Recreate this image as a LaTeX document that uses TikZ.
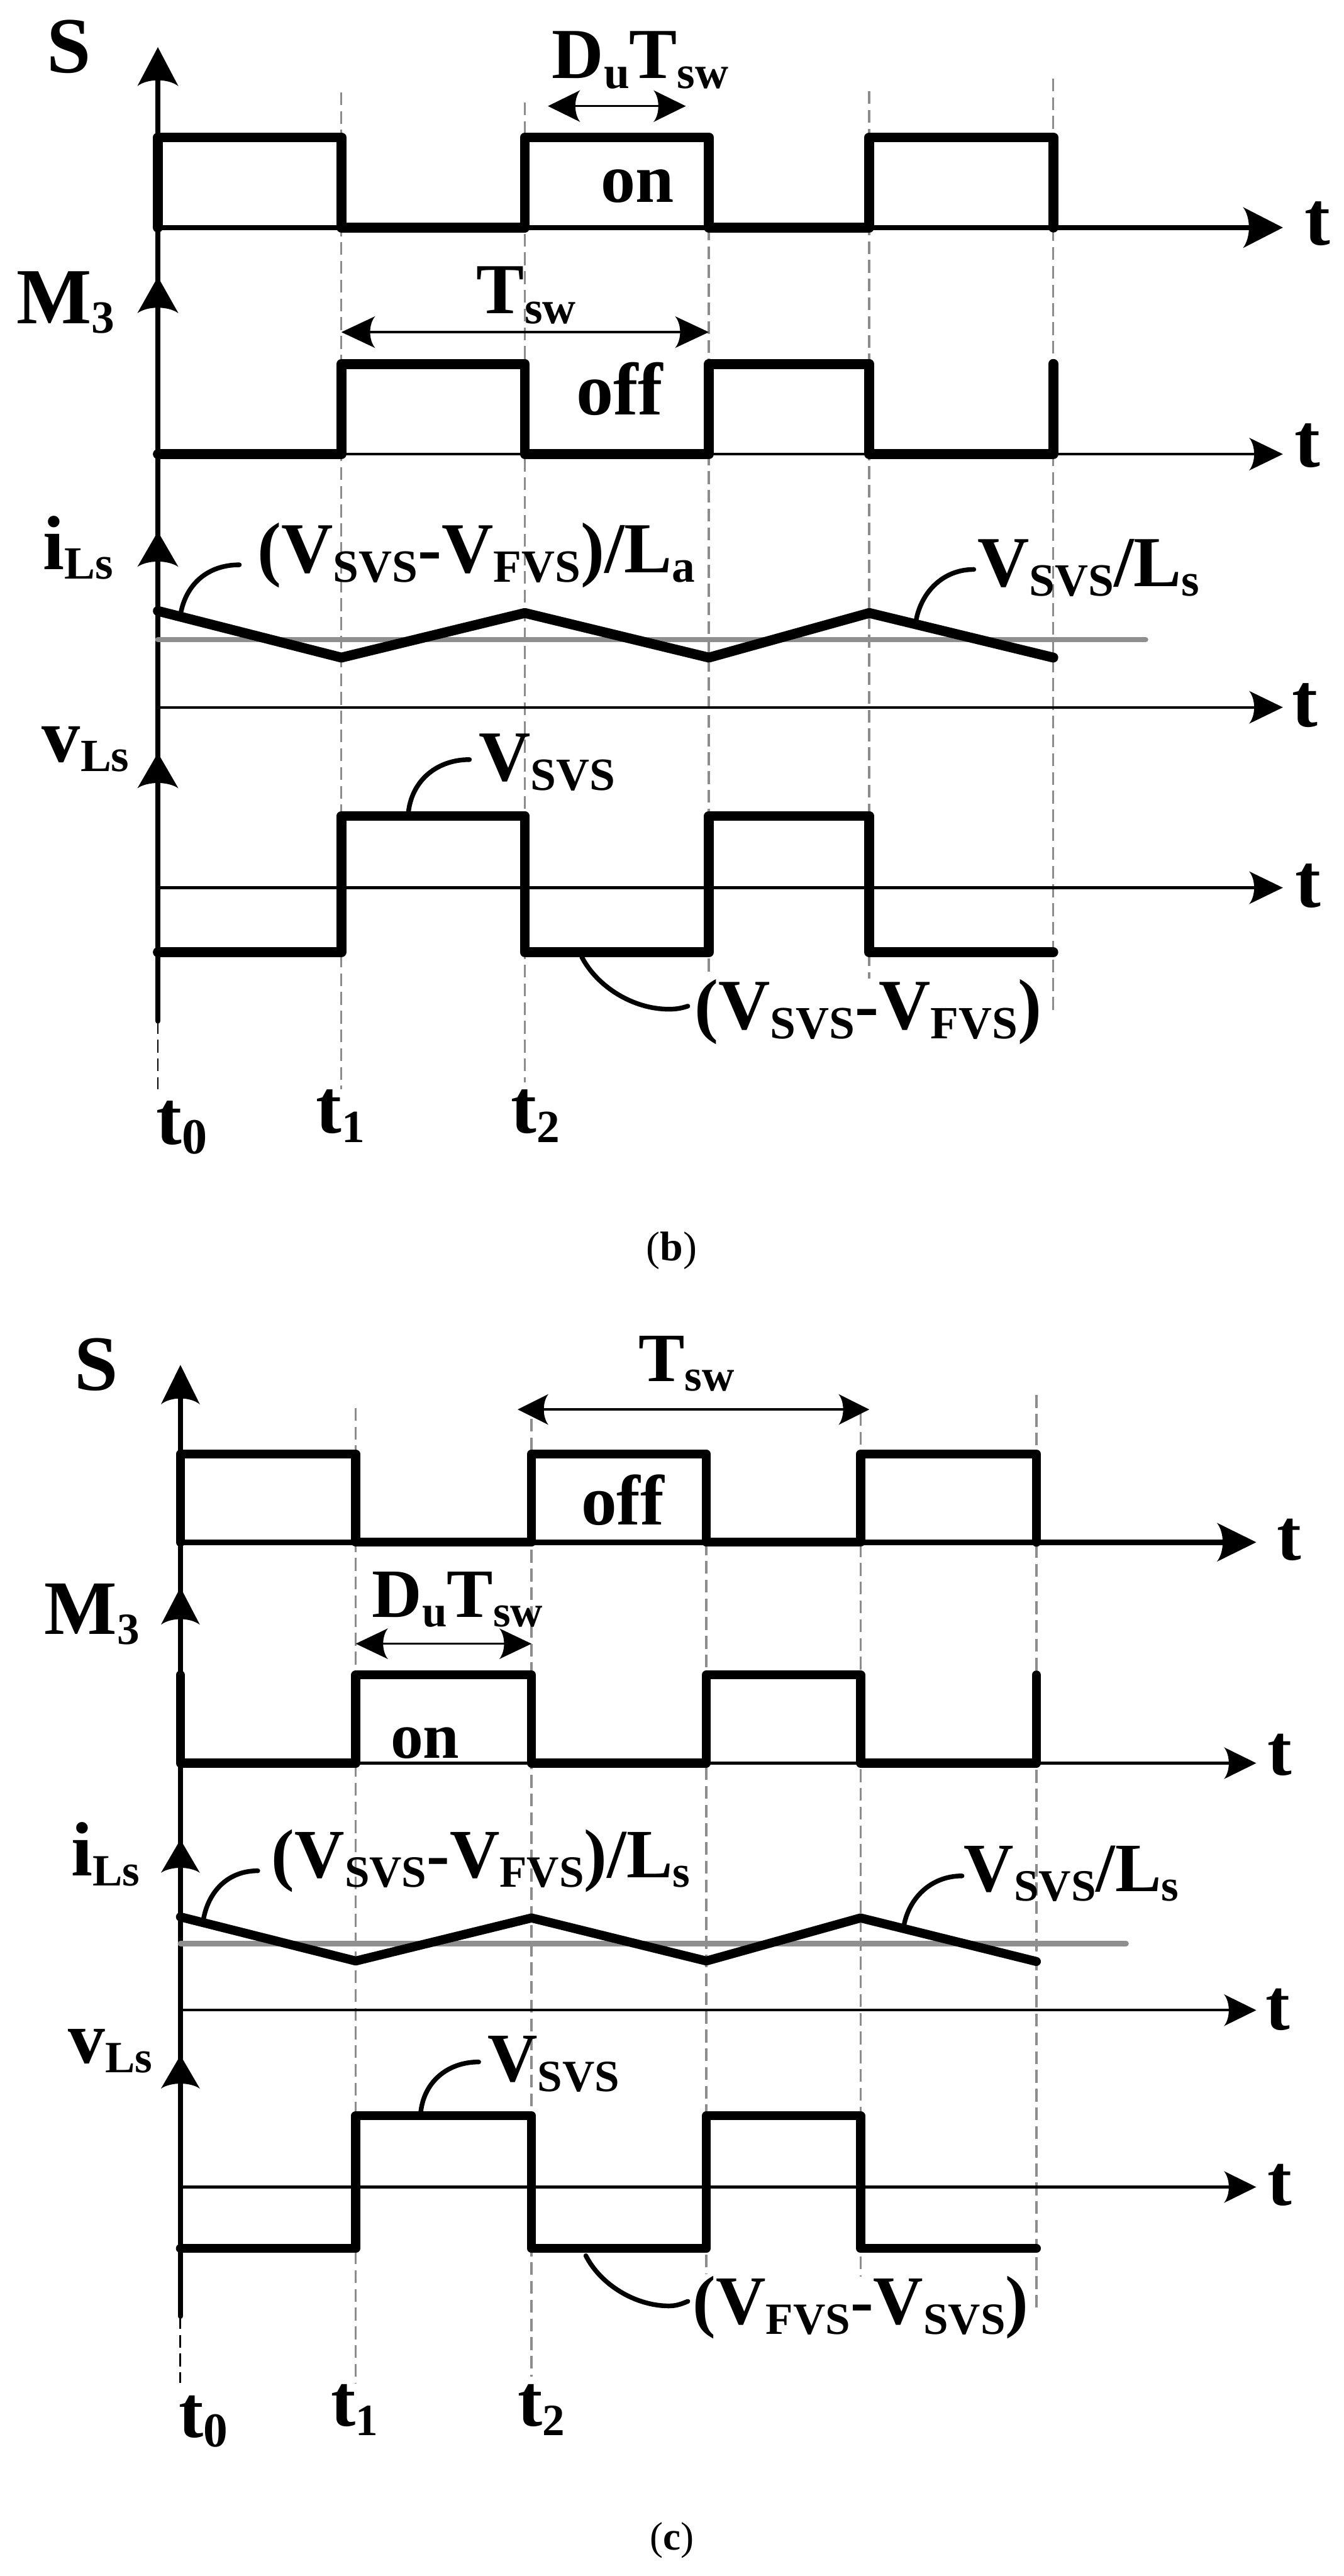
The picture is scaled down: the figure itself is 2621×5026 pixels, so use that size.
\documentclass[tikz,border=0pt]{standalone}
\usepackage{fontspec}
\setmainfont{Liberation Serif}
\newcommand{\subsize}{25.6}
\newcommand{\subt}[1]{\raisebox{-5.4pt}{\fontsize{\subsize}{\subsize}\selectfont #1}}
\tikzset{
  lbl/.style={inner sep=0pt, outer sep=0pt, anchor=base west, font=\bfseries\fontsize{#1}{#1}\selectfont},
  wave/.style={line width=5.5pt, line cap=round, line join=round},
  waveB/.style={line width=5pt, line cap=round, line join=round},
  axisT/.style={line width=3pt, line cap=round},
  axisN/.style={line width=1.5pt},
  leader/.style={line width=2.6pt, line cap=round},
  mean/.style={line width=3pt, color=meangray, line cap=round},
  guide/.style={line width=1.2pt, color=guidegray, dash pattern=on 7.1pt off 3.3pt},
  guideK/.style={line width=1pt, color=black, dash pattern=on 7.1pt off 3.3pt},
  dim/.style={line width=1.2pt},
  pics/headtip/.style n args={2}{code={
    \fill (0,0) -- (-#1,-#2) .. controls (-0.8*#1,-0.5*#2) and (-0.8*#1,0.5*#2) .. (-#1,#2) -- cycle;
  }}
}
\definecolor{meangray}{HTML}{8F8F8F}
\definecolor{guidegray}{HTML}{8C8C8C}
\begin{document}
\begin{tikzpicture}[x=0.01cm,y=-0.01cm]
\useasboundingbox (0,0) rectangle (2621,5026);
% ======================= PANEL (b) =======================
\draw[guide] (666,180) -- (666,2125);
\draw[guide] (1024,200) -- (1024,2112);
\draw[guide] (1383,444) -- (1383,1900);
\draw[guide] (1696,178) -- (1696,1909);
\draw[guide] (2055,153) -- (2055,1975);
\draw[guideK] (308,1992) -- (308,2125);
% main axis
\draw[axisT] (308,120) -- (308,1992);
\pic[rotate=90] at (308,92) {headtip={76}{40}};
\pic[rotate=90] at (308,540) {headtip={71}{40}};
\pic[rotate=90] at (308,1037) {headtip={69}{40}};
\pic[rotate=90] at (308,1469) {headtip={69}{40}};
% S
\draw[axisT] (308,444) -- (2480,444);
\pic at (2503,444) {headtip={78}{40}};
\draw[wave] (308,444) -- (308,268) -- (666,268) -- (666,444) -- (1024,444) -- (1024,268) -- (1383,268) -- (1383,444) -- (1696,444) -- (1696,268) -- (2055,268) -- (2055,444);
% M3
\draw[axisN] (308,886) -- (2480,886);
\pic at (2503,886) {headtip={66}{32}};
\draw[wave] (308,886) -- (666,886) -- (666,710) -- (1024,710) -- (1024,886) -- (1383,886) -- (1383,710) -- (1696,710) -- (1696,886) -- (2055,886) -- (2055,710);
% iLs
\draw[mean] (308,1248) -- (2235,1248);
\draw[axisN] (308,1380) -- (2480,1380);
\pic at (2503,1380) {headtip={66}{32}};
\draw[wave] (308,1192) -- (666,1283) -- (1024,1196) -- (1383,1283) -- (1696,1196) -- (2055,1283);
% vLs
\draw[axisN] (308,1732) -- (2480,1732);
\pic at (2503,1732) {headtip={66}{32}};
\draw[wave] (308,1858) -- (666,1858) -- (666,1592) -- (1024,1592) -- (1024,1858) -- (1383,1858) -- (1383,1592) -- (1696,1592) -- (1696,1858) -- (2055,1858);
% dimension arrows
\draw[dim] (1120,207) -- (1290,207);
\pic[rotate=180] at (1069,207) {headtip={63}{31}};
\pic at (1338,207) {headtip={63}{31}};
\draw[dim] (715,648) -- (1335,648);
\pic[rotate=180] at (666,648) {headtip={66}{31}};
\pic at (1383,648) {headtip={66}{31}};
% leaders
\draw[leader] (352,1200) .. controls (362,1140) and (405,1102) .. (467,1102);
\draw[leader] (1787,1212) .. controls (1797,1155) and (1840,1111) .. (1900,1111);
\draw[leader] (797,1583) .. controls (805,1520) and (855,1482) .. (916,1482);
\draw[leader] (1135,1867) .. controls (1165,1925) and (1235,1969) .. (1305,1969) .. controls (1320,1969) and (1330,1967) .. (1342,1963);
% labels
\node[lbl=44.1] (bS) at (91,142) {S};
\node[lbl=44.1] (bM) at (32,631) {M\subt{3}};
\node[lbl=42.7] (bi) at (84,1111) {i\subt{Ls}};
\node[lbl=42.7] (bv) at (82,1486) {v\subt{Ls}};
\node[lbl=39.8] (bDu) at (1077,153) {D\subt{u}T\subt{sw}};
\node[lbl=39.8] (bTsw) at (930,612) {T\subt{sw}};
\node[lbl=38.4] (bon) at (1172,394) {on};
\node[lbl=41.3] (boff) at (1124,809) {off};
\node[lbl=39.8] (bs1) at (502,1117) {(V\subt{SVS}-V\subt{FVS})/L\subt{a}};
\node[lbl=39.8] (bs2) at (1907,1144) {V\subt{SVS}/L\subt{s}};
\node[lbl=39.8] (bv1) at (934,1523) {V\subt{SVS}};
\node[lbl=39.8] (bv2) at (1355,2008) {(V\subt{SVS}-V\subt{FVS})};
\node[lbl=42.7] (bt1) at (2545,478) {t};
\node[lbl=42.7] (bt2) at (2526,911) {t};
\node[lbl=42.7] (bt3) at (2521,1418) {t};
\node[lbl=42.7] (bt4) at (2527,1770) {t};
\node[lbl=42.7] (bt0s) at (305,2232) {t\subt{\fontsize{28}{28}\selectfont 0}};
\node[lbl=42.7] (bt1s) at (617,2210) {t\subt{1}};
\node[lbl=42.7] (bt2s) at (997,2210) {t\subt{2}};
\node[inner sep=0pt, anchor=base west, font=\fontsize{23}{23}\selectfont] (bcap) at (1260,2460) {(\textbf{b})};
% ======================= PANEL (c) =======================
\begin{scope}
\renewcommand{\subsize}{24.8}
\draw[guide] (694,2747) -- (694,4649);
\draw[guide] (1037,2768) -- (1037,4637);
\draw[guide] (1378,3009) -- (1378,4437);
\draw[guide] (1679,2757) -- (1679,4442);
\draw[guide] (2022,2722) -- (2022,4503);
\draw[guideK] (352,4519) -- (352,4649);
\draw[axisT] (352,2690) -- (352,4519);
\pic[rotate=90] at (352,2663) {headtip={77}{38}};
\pic[rotate=90] at (352,3097) {headtip={73}{38}};
\pic[rotate=90] at (352,3589) {headtip={65}{38}};
\pic[rotate=90] at (352,4010) {headtip={65}{38}};
% S
\draw[axisT] (352,3009) -- (2430,3009);
\pic at (2451,3009) {headtip={77}{38}};
\draw[waveB] (352,3009) -- (352,2837) -- (694,2837) -- (694,3009) -- (1037,3009) -- (1037,2837) -- (1378,2837) -- (1378,3009) -- (1679,3009) -- (1679,2837) -- (2022,2837) -- (2022,3009);
% M3
\draw[axisN] (352,3440) -- (2430,3440);
\pic at (2451,3440) {headtip={63}{31}};
\draw[waveB] (352,3268) -- (352,3440) -- (694,3440) -- (694,3268) -- (1037,3268) -- (1037,3440) -- (1378,3440) -- (1378,3268) -- (1679,3268) -- (1679,3440) -- (2022,3440) -- (2022,3268);
% iLs
\draw[mean] (352,3792) -- (2197,3792);
\draw[axisN] (352,3922) -- (2430,3922);
\pic at (2451,3922) {headtip={63}{31}};
\draw[waveB] (352,3740) -- (694,3826) -- (1037,3742) -- (1378,3826) -- (1679,3742) -- (2022,3827);
% vLs
\draw[axisN] (352,4267) -- (2430,4267);
\pic at (2451,4267) {headtip={63}{31}};
\draw[waveB] (352,4387) -- (694,4387) -- (694,4128) -- (1037,4128) -- (1037,4387) -- (1378,4387) -- (1378,4128) -- (1679,4128) -- (1679,4387) -- (2022,4387);
% dimension arrows
\draw[dim] (1060,2750) -- (1650,2750);
\pic[rotate=180] at (1010,2750) {headtip={60}{30}};
\pic at (1696,2750) {headtip={60}{30}};
\draw[dim] (745,3207) -- (990,3207);
\pic[rotate=180] at (694,3207) {headtip={63}{30}};
\pic at (1037,3207) {headtip={63}{30}};
% leaders
\draw[leader] (396,3750) .. controls (405,3690) and (445,3650) .. (503,3650);
\draw[leader] (1763,3760) .. controls (1772,3705) and (1815,3660) .. (1877,3660);
\draw[leader] (821,4120) .. controls (828,4060) and (875,4023) .. (934,4023);
\draw[leader] (1143,4401) .. controls (1172,4458) and (1240,4499) .. (1305,4499) .. controls (1320,4499) and (1330,4495) .. (1342,4490);
% labels
\node[lbl=43.5] (cS) at (145,2712) {S};
\node[lbl=42.7] (cM) at (87,3189) {M\subt{3}};
\node[lbl=42.7] (ci) at (139,3660) {i\subt{Ls}};
\node[lbl=41] (cv) at (133,4025) {v\subt{Ls}};
\node[lbl=38.4] (cDu) at (726,3155) {D\subt{u}T\subt{sw}};
\node[lbl=38.4] (cTsw) at (1246,2695) {T\subt{sw}};
\node[lbl=36.1] (con) at (762,3430) {on};
\node[lbl=39.5] (coff) at (1134,2975) {off};
\node[lbl=38.4] (cs1) at (530,3663) {(V\subt{SVS}-V\subt{FVS})/L\subt{s}};
\node[lbl=38.4] (cs2) at (1881,3690) {V\subt{SVS}/L\subt{s}};
\node[lbl=38.4] (cv1) at (951,4061) {V\subt{SVS}};
\node[lbl=38.4] (cv2) at (1352,4535) {(V\subt{FVS}-V\subt{SVS})};
\node[lbl=40.5] (ct1) at (2492,3044) {t};
\node[lbl=40.5] (ct2) at (2473,3463) {t};
\node[lbl=40.5] (ct3) at (2469,3960) {t};
\node[lbl=40.5] (ct4) at (2473,4303) {t};
\node[lbl=41] (ct0s) at (349,4755) {t\subt{\fontsize{27}{27}\selectfont 0}};
\node[lbl=41] (ct1s) at (646,4733) {t\subt{1}};
\node[lbl=41] (ct2s) at (1010,4733) {t\subt{2}};
\node[inner sep=0pt, anchor=base west, font=\fontsize{22}{22}\selectfont] (ccap) at (1267,4975) {(\textbf{c})};
\end{scope}
\end{tikzpicture}
\end{document}
